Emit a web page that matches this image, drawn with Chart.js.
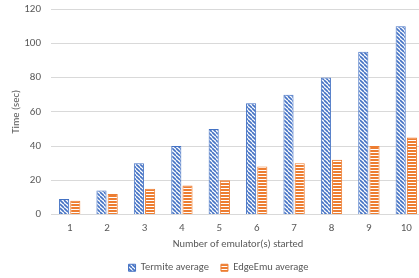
<!DOCTYPE html>
<html>
<head>
<meta charset="utf-8">
<script src="https://cdn.jsdelivr.net/npm/chart.js@4/dist/chart.umd.min.js"></script>
<style>
  html, body { margin: 0; padding: 0; background: #fff; overflow: hidden; }
  #wrap { width: 425px; height: 278px; overflow: hidden; }
</style>
</head>
<body>
<div id="wrap"><canvas id="chart" width="425" height="283"></canvas></div>
<script>
/* emulator start-up times */
const EMULATORS = ['1', '2', '3', '4', '5', '6', '7', '8', '9', '10'];
const TERMITE   = [9, 14, 30, 40, 50, 65, 70, 80, 95, 110];
const EDGEEMU   = [8, 12, 15, 17, 20, 28, 30, 32, 40, 45];
const Y_TICKS   = [0, 20, 40, 60, 80, 100, 120];

const FONT = 'Carlito, Lato, "Open Sans", sans-serif';
const TXT = '#595959';

// ── fill patterns (diagonal hatch / horizontal lines) ──
function hatch(draw, w, h) {
  const c = document.createElement('canvas');
  c.width = w; c.height = h;
  const g = c.getContext('2d');
  g.fillStyle = '#fff';
  g.fillRect(0, 0, w, h);
  draw(g);
  return g.createPattern(c, 'repeat');
}
const ctx = document.getElementById('chart').getContext('2d');

const blueHatch = hatch(g => {
  g.strokeStyle = '#4472C4';
  g.lineWidth = 1.6;
  for (let k = -4; k <= 8; k += 4) {
    g.beginPath(); g.moveTo(k, 0); g.lineTo(k + 4, 4); g.stroke();
  }
}, 4, 4);

const orangeLines = hatch(g => {
  g.fillStyle = '#ED7D31';
  g.fillRect(0, 0, 3, 2);
}, 3, 3);

// legend sits a few px right of the canvas centre in the original
const nudgeLegend = {
  id: 'nudgeLegend',
  afterLayout(chart) {
    const lg = chart.legend;
    if (lg) { lg.left += 6; lg.right += 6; }
  }
};

new Chart(ctx, {
  type: 'bar',
  data: {
    labels: EMULATORS,
    datasets: [
      { label: 'Termite average', data: TERMITE, backgroundColor: blueHatch,
        borderColor: '#4472C4', borderWidth: 1 },
      { label: 'EdgeEmu average', data: EDGEEMU, backgroundColor: orangeLines,
        borderColor: '#ED7D31', borderWidth: 1 }
    ]
  },
  plugins: [nudgeLegend],
  options: {
    responsive: false, animation: false,
    categoryPercentage: 0.6, barPercentage: 0.9,
    layout: { padding: { top: 9, left: 0, right: 0, bottom: 0 } },
    plugins: {
      tooltip: { enabled: false },
      legend: {
        position: 'bottom',
        labels: { font: { family: FONT, size: 10.5 }, color: TXT, boxWidth: 7, boxHeight: 7, padding: 12 }
      }
    },
    scales: {
      x: {
        grid: { display: false, drawTicks: false },
        border: { color: '#D9D9D9' },
        ticks: { font: { family: FONT, size: 11 }, color: TXT, padding: 7 },
        title: { display: true, text: 'Number of emulator(s) started',
                 font: { family: FONT, size: 10.5 }, color: TXT, padding: { top: 2, bottom: 0 } },
        afterFit: s => { s.height = 36; }
      },
      y: {
        min: 0, max: 120,
        afterBuildTicks: s => { s.ticks = Y_TICKS.map(v => ({ value: v })); },
        grid: { color: '#D9D9D9', drawTicks: false },
        border: { display: false },
        ticks: { font: { family: FONT, size: 11 }, color: TXT, padding: 10 },
        title: { display: true, text: 'Time (sec)', font: { family: FONT, size: 10.5 },
                 color: TXT, padding: { top: 10, bottom: 0 } },
        afterFit: s => { s.width = 51; s.paddingTop = 0; s.paddingBottom = 0; }
      }
    }
  }
});
</script>
</body>
</html>
